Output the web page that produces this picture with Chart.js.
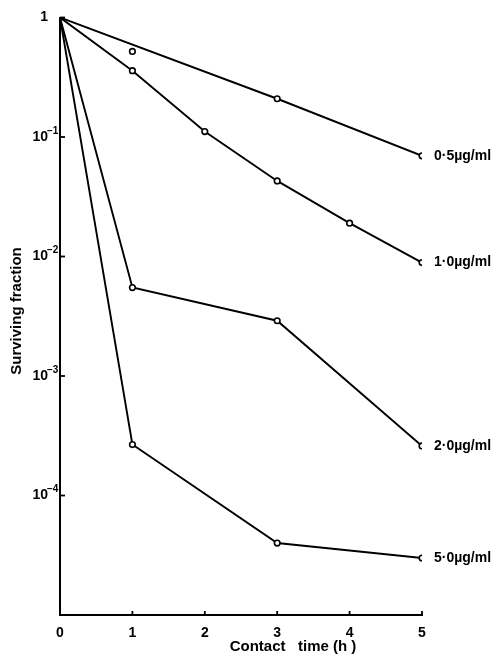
<!DOCTYPE html>
<html>
<head>
<meta charset="utf-8">
<script src="https://cdn.jsdelivr.net/npm/chart.js@4/dist/chart.umd.min.js"></script>
<style>
html,body{margin:0;padding:0;background:#fff;}
#wrap{width:493px;height:654px;position:relative;}
</style>
</head>
<body>
<div id="wrap"><canvas id="c" width="493" height="654"></canvas></div>
<script>
// ---- data ----
const times = [0, 1, 2, 3, 4, 5];
const seriesNames = ['0·5µg/ml', '1·0µg/ml', '2·0µg/ml', '5·0µg/ml'];
const s05 = [1, 0.52, null, 0.209, null, 0.0696];
const s10 = [1, 0.359, 0.111, 0.0429, 0.0190, 0.0089];
const s20 = [1, 0.0055, null, 0.0029, null, 0.00026];
const s50 = [1, 0.000267, null, 0.000040, null, 0.000030];
// points of the 0.5 µg/ml series that the drawn line does not pass through
const s05OffLine = [1];
const xTicks = [0, 1, 2, 3, 4, 5];
const yTickValues = [1, 0.1, 0.01, 0.001, 0.0001];
const yTickBase = ['1', '10', '10', '10', '10'];
const yTickExp = ['', '−1', '−2', '−3', '−4'];
const xTitle = 'Contact   time (h )';
const yTitle = 'Surviving fraction';

const FONT = "'Liberation Sans', Arial, sans-serif";

function toPoints(vals, skip) {
  const out = [];
  vals.forEach((v, i) => {
    if (v !== null && !(skip || []).includes(i)) out.push({x: times[i], y: v});
  });
  return out;
}

const allSeries = [s05, s10, s20, s50];
const datasets = [];
allSeries.forEach((s, k) => {
  const skip = k === 0 ? s05OffLine : [];
  datasets.push({
    label: seriesNames[k],
    data: toPoints(s, skip),
    borderColor: '#000',
    borderWidth: 1.9,
    backgroundColor: '#fff',
    pointBorderColor: '#000',
    pointBackgroundColor: '#fff',
    pointBorderWidth: 1.6,
    pointRadius: ctx => (ctx.raw && ctx.raw.x === 0 ? 0 : 2.8),
    pointHoverRadius: 0,
    tension: 0,
    fill: false,
    seriesLabel: true
  });
});
// off-line marker(s) of 0.5 µg/ml series
datasets.push({
  label: 'off',
  data: s05OffLine.map(i => ({x: times[i], y: s05[i]})),
  showLine: false,
  borderColor: '#000',
  pointBorderColor: '#000',
  pointBackgroundColor: '#fff',
  pointBorderWidth: 1.6,
  pointRadius: 2.8
});

const LABEL_RIGHT_GAP = 13; // distance from axis to right edge of "10"

const extras = {
  id: 'extras',
  afterDraw(chart) {
    const ctx = chart.ctx;
    const xs = chart.scales.x, ys = chart.scales.y;
    ctx.save();
    ctx.strokeStyle = '#000';
    ctx.lineWidth = 1.8;
    // inward tick marks
    xTicks.forEach(v => {
      if (v === 0) return;
      const px = xs.getPixelForValue(v);
      ctx.beginPath(); ctx.moveTo(px, xs.top); ctx.lineTo(px, xs.top - 4); ctx.stroke();
    });
    yTickValues.forEach(v => {
      const py = ys.getPixelForValue(v);
      ctx.beginPath(); ctx.moveTo(ys.right, py); ctx.lineTo(ys.right + 5, py); ctx.stroke();
    });
    // superscript exponents of y tick labels
    ctx.fillStyle = '#000';
    ctx.font = 'bold 10px ' + FONT;
    ctx.textAlign = 'left';
    ctx.textBaseline = 'middle';
    yTickValues.forEach((v, i) => {
      if (!yTickExp[i]) return;
      const py = ys.getPixelForValue(v);
      ctx.fillText(yTickExp[i], ys.right - LABEL_RIGHT_GAP, py - 6);
    });
    // series labels at line ends
    ctx.font = 'bold 14px ' + FONT;
    chart.data.datasets.forEach((ds, i) => {
      if (!ds.seriesLabel) return;
      const meta = chart.getDatasetMeta(i);
      const el = meta.data[meta.data.length - 1];
      ctx.fillText(ds.label, el.x + 12, el.y);
    });
    // axis titles
    ctx.font = 'bold 15px ' + FONT;
    ctx.textAlign = 'center';
    ctx.textBaseline = 'middle';
    ctx.fillText(xTitle, 293, 647);
    ctx.translate(17, 311);
    ctx.rotate(-Math.PI / 2);
    ctx.fillText(yTitle, 0, 0);
    ctx.restore();
  }
};

new Chart(document.getElementById('c'), {
  type: 'line',
  data: {datasets},
  options: {
    responsive: false,
    animation: false,
    events: [],
    layout: {padding: {top: 17.5, right: 71, bottom: 0, left: 0}},
    plugins: {legend: {display: false}, tooltip: {enabled: false}, title: {display: false}},
    scales: {
      x: {
        type: 'linear',
        min: 0, max: 5,
        afterBuildTicks: s => { s.ticks = xTicks.map(v => ({value: v})); },
        afterFit: s => { s.height = 39; },
        grid: {display: false},
        border: {display: true, color: '#000', width: 2},
        ticks: {color: '#000', font: {family: FONT, size: 14, weight: 'bold'}, padding: 2, maxRotation: 0}
      },
      y: {
        type: 'logarithmic',
        min: 1e-5, max: 1,
        afterBuildTicks: s => { s.ticks = yTickValues.map(v => ({value: v})); },
        afterFit: s => { s.width = 60; },
        grid: {display: false},
        border: {display: true, color: '#000', width: 2},
        ticks: {
          color: '#000', font: {family: FONT, size: 14, weight: 'bold'}, padding: 4,
          callback: v => { const i = yTickValues.findIndex(t => Math.abs(t - v) / t < 1e-6); return i >= 0 ? yTickBase[i] : ''; }
        }
      }
    }
  },
  plugins: [extras]
});
</script>
</body>
</html>
